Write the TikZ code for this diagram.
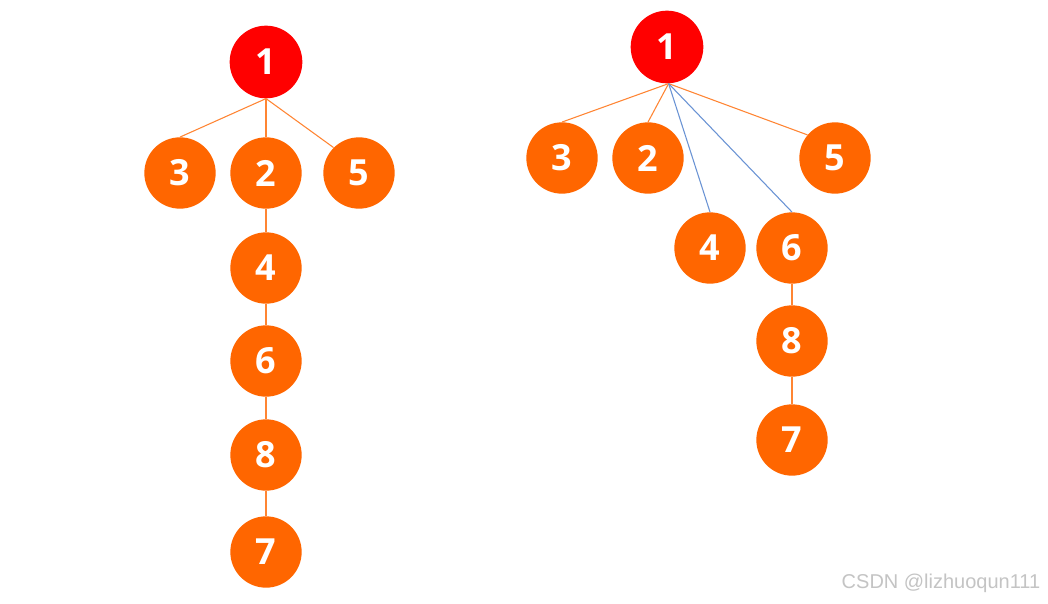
\documentclass[tikz,border=0pt]{standalone}
\usepackage{fontspec}
\setmainfont{Open Sans}
\newfontfamily\wmfont{Liberation Sans}
\definecolor{nodeorange}{HTML}{FF6600}
\definecolor{rootred}{HTML}{FF0000}
\definecolor{edgeorange}{HTML}{FF8533}
\definecolor{edgeblue}{HTML}{6A93D4}
\definecolor{wmgrey}{HTML}{C4C4C4}
\begin{document}
\begin{tikzpicture}[x=0.75pt,y=-0.75pt,
  vnode/.style={circle,fill=nodeorange,text=white,minimum size=53.5pt,inner sep=0pt,
    font=\fontsize{27}{29}\selectfont\bfseries},
  rootnode/.style={vnode,fill=rootred,minimum size=54.5pt},
  oedge/.style={draw=edgeorange,line width=0.8pt},
  bedge/.style={draw=edgeblue,line width=0.8pt}]
\useasboundingbox[fill=white] (0,0) rectangle (1048,603);
% left tree
\node[rootnode] (a1) at (266,62) {1};
\node[vnode] (a3) at (180,173) {3};
\node[vnode] (a2) at (266,173) {2};
\node[vnode] (a5) at (359,173) {5};
\node[vnode] (a4) at (266,268) {4};
\node[vnode] (a6) at (266,361) {6};
\node[vnode] (a8) at (266,455) {8};
\node[vnode] (a7) at (266,552) {7};
\draw[oedge] (a1.south) -- (a3.north);
\draw[oedge] (a1.south) -- (a2.north);
\draw[oedge] (a1.south) -- (a5.135);
\draw[oedge] (a2) -- (a4);
\draw[oedge] (a4) -- (a6);
\draw[oedge] (a6) -- (a8);
\draw[oedge] (a8) -- (a7);
% right tree
\node[rootnode] (b1) at (667,47) {1};
\node[vnode] (b3) at (562,158) {3};
\node[vnode] (b2) at (648,158) {2};
\node[vnode] (b5) at (835,158) {5};
\node[vnode] (b4) at (710,248) {4};
\node[vnode] (b6) at (792,248) {6};
\node[vnode] (b8) at (792,341) {8};
\node[vnode] (b7) at (792,440) {7};
\coordinate (b1s) at ([xshift=1.2pt]b1.south);
\draw[oedge] (b1s) -- (b3.north);
\draw[oedge] (b1s) -- (b2.north);
\draw[oedge] (b1s) -- (b5.140);
\draw[bedge] (b1s) -- (b4.north);
\draw[bedge] (b1s) -- (b6.north);
\draw[oedge] (b6) -- (b8);
\draw[oedge] (b8) -- (b7);
% watermark
\node[text=wmgrey,font=\wmfont\fontsize{15}{17}\selectfont,inner sep=0pt] (wm) at (941,583) {CSDN @lizhuoqun111};
\end{tikzpicture}
\end{document}
